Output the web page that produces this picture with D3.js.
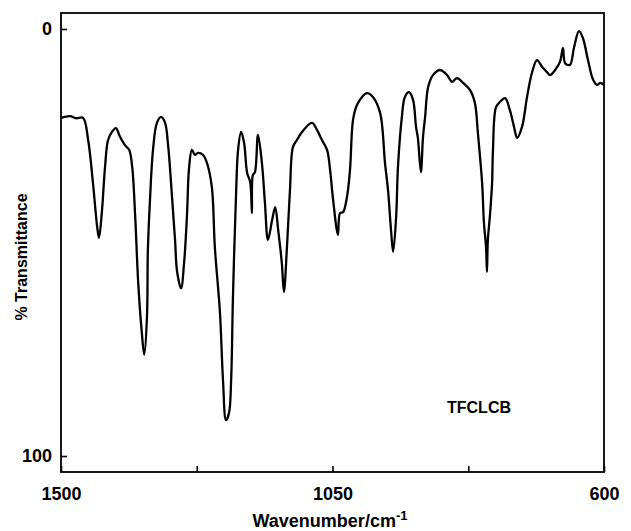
<!DOCTYPE html>
<html>
<head>
<meta charset="utf-8">
<script src="https://cdn.jsdelivr.net/npm/d3@7"></script>
<style>
    body { margin: 0; background: #fff; }
    text { font-family: "Liberation Sans", Arial, sans-serif; font-weight: bold; fill: #000; }
</style>
</head>
<body>
<div class="ir-container"></div>
<script>
// IR spectrum of TFCLCB.
const wavenumber = [
    1500, 1485, 1475, 1463.5, 1455, 1447, 1440, 1437, 1432, 1427, 1422, 1415.5, 1409, 1402, 1394, 1387,
    1382, 1377, 1372, 1366, 1362, 1357.5, 1356, 1352.5, 1347.5, 1341, 1334, 1327.5, 1322.5, 1316, 1311,
    1307.5, 1301, 1296, 1291, 1288, 1283, 1278, 1273, 1264.5, 1258, 1250, 1245, 1236.5, 1231.5, 1226.5,
    1221.5, 1218, 1215, 1210, 1206.5, 1201.5, 1196.5, 1191.5, 1186.5, 1183.5, 1182, 1178.5, 1173.5,
    1167, 1162, 1157, 1150, 1145, 1140, 1134, 1130.5, 1125.5, 1120.5, 1115.5, 1109, 1100.5, 1084,
    1075.5, 1067.5, 1059, 1054, 1049, 1041, 1037.5, 1032.5, 1026, 1021, 1016, 1009.5, 1001, 993,
    983, 971, 963, 958, 953, 949.5, 944.5, 941.5, 935, 930, 923, 916.5, 911.5, 908.5, 903.5, 900,
    896.5, 891.5, 883.5, 872, 860, 852, 843.5, 833.5, 822, 814, 809, 802, 799, 795.5, 794, 792.5,
    789, 785.5, 784, 779, 772.5, 764, 756, 749, 744, 736, 727.5, 719.5, 711, 702.5, 694.5, 689.5,
    681, 673, 668, 664.5, 656.5, 649.5, 641.5, 635, 626.5, 618, 611.5, 606.5, 600
];
const transmittance = [
    20.8, 20.4, 20.9, 20.8, 26.0, 36.1, 46.4, 48.9, 42.4, 32.3, 26.0, 24.1, 23.2, 25.3, 27.2, 28.3,
    32.3, 44.0, 59.5, 71.2, 76.3, 67.4, 51.8, 40.0, 28.3, 22.0, 20.6, 22.0, 27.2, 39.3, 49.4,
    56.9, 60.7, 54.8, 43.1, 33.0, 28.3, 29.5, 29.0, 29.5, 31.4, 37.0, 51.1, 66.5, 82.2, 91.6,
    89.9, 82.2, 62.8, 39.3, 28.3, 24.1, 26.7, 33.7, 35.8, 43.1, 34.2, 33.5, 24.8,
    31.4, 40.7, 49.4, 44.7, 41.7, 47.1, 54.8, 61.6, 51.1, 37.7, 27.6, 26.0, 24.1, 22.0,
    23.7, 26.0, 28.3, 33.0, 40.0, 48.2, 43.1, 42.9, 39.3, 33.0, 21.3, 17.8, 15.9, 15.0,
    15.9, 19.7, 31.4, 37.7, 47.1, 52.2, 44.0, 32.3, 20.6, 15.9, 14.8, 16.6, 23.0, 25.5, 33.5, 25.3,
    20.6, 13.6, 10.8, 9.6, 10.8, 12.4, 11.5, 12.6, 14.3, 17.3, 24.4, 36.1, 45.4, 51.1, 56.9, 49.4,
    43.6, 36.1, 28.3, 18.3, 17.1, 16.2, 19.0, 23.0, 25.5, 23.0, 15.9, 10.3, 7.3, 8.9, 10.1, 10.8,
    9.6, 7.7, 4.4, 8.0, 8.4, 4.2, 0.5, 2.1, 7.3, 11.9, 13.1, 12.6, 13.1
];
const xTicks = [1500, 1275, 1050, 825, 600];
const xTickLabels = ["1500", "", "1050", "", "600"];
const yTicks = [0, 100];
const yTickLabels = ["0", "100"];
const sampleName = "TFCLCB";

let width = 631,
    height = 531,
    frame = {left: 61, right: 604, top: 13, bottom: 472},
    svg = d3.select("div.ir-container")
        .append("svg")
        .attr("width", width)
        .attr("height", height);

let x = d3.scaleLinear().domain([1500, 600]).range([frame.left, frame.right]),
    y = d3.scaleLinear().domain([0, 100]).range([29, 456]);

// Frame around the plot
svg.append("rect")
    .attr("x", frame.left)
    .attr("y", frame.top)
    .attr("width", frame.right - frame.left)
    .attr("height", frame.bottom - frame.top)
    .style("fill", "none")
    .style("stroke", "#000")
    .style("stroke-width", 1.8);

// x axis: short ticks pointing into the plot, only some labelled
let xAxis = svg.append("g")
    .attr("transform", `translate(0,${frame.bottom})`)
    .call(d3.axisBottom(x)
        .tickValues(xTicks)
        .tickSize(-6)
        .tickPadding(20)
        .tickFormat((d, i) => xTickLabels[i]));
xAxis.select(".domain").remove();
xAxis.selectAll("line").style("stroke", "#000").style("stroke-width", 1.6);
xAxis.selectAll("text")
    .attr("y", 28)
    .attr("dy", 0)
    .style("font-size", "18px")
    .style("font-family", "'Liberation Sans', Arial, sans-serif")
    .style("font-weight", "bold");

// y axis
let yAxis = svg.append("g")
    .attr("transform", `translate(${frame.left},0)`)
    .call(d3.axisLeft(y)
        .tickValues(yTicks)
        .tickSize(-6)
        .tickPadding(9)
        .tickFormat((d, i) => yTickLabels[i]));
yAxis.select(".domain").remove();
yAxis.selectAll("line").style("stroke", "#000").style("stroke-width", 1.6);
yAxis.selectAll("text")
    .style("font-size", "18px")
    .style("font-family", "'Liberation Sans', Arial, sans-serif")
    .style("font-weight", "bold");

// Spectrum
let line = d3.line()
    .x((d, i) => x(wavenumber[i]))
    .y((d, i) => y(transmittance[i]))
    .curve(d3.curveCatmullRom.alpha(0.5));

svg.append("path")
    .datum(wavenumber)
    .attr("d", line)
    .style("fill", "none")
    .style("stroke", "#000")
    .style("stroke-width", 2.3)
    .style("stroke-linejoin", "round");

// Labels
svg.append("text")
    .attr("x", 447)
    .attr("y", 413)
    .style("font-size", "16px")
    .text(sampleName);

let xLabel = svg.append("text")
    .attr("x", 330)
    .attr("y", 527)
    .attr("text-anchor", "middle")
    .style("font-size", "18px");
xLabel.append("tspan").text("Wavenumber/cm");
xLabel.append("tspan")
    .attr("dy", -7)
    .style("font-size", "13px")
    .text("-1");

svg.append("text")
    .attr("transform", "translate(27,257) rotate(-90)")
    .attr("text-anchor", "middle")
    .style("font-size", "16px")
    .text("% Transmittance");
</script>
</body>
</html>
